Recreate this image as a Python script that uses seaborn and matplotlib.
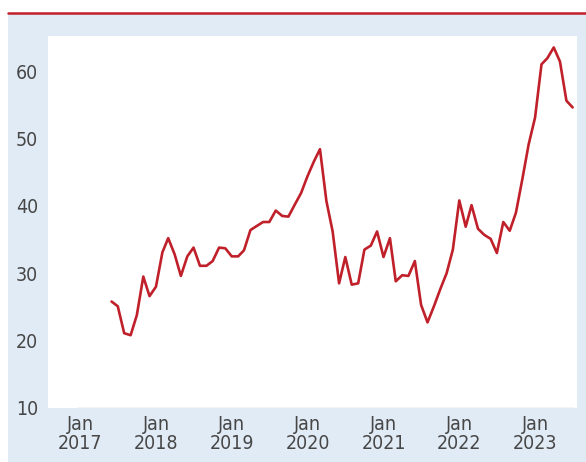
import matplotlib
matplotlib.use("Agg")
import matplotlib.pyplot as plt
from matplotlib.patches import Rectangle
from matplotlib.lines import Line2D
import seaborn as sns
import pandas as pd

start_month = "2017-06-01"
values = [
    25.8, 25.1, 21.1, 20.8, 23.8, 29.5, 26.6,                       # 2017 Jun-Dec
    28.0, 33.1, 35.2, 32.8, 29.6, 32.5, 33.8, 31.1, 31.1, 31.8, 33.8, 33.7,  # 2018
    32.5, 32.5, 33.4, 36.4, 37.0, 37.6, 37.6, 39.3, 38.5, 38.4, 40.2, 41.9,  # 2019
    44.4, 46.6, 48.4, 40.7, 36.2, 28.5, 32.4, 28.3, 28.5, 33.5, 34.1, 36.2,  # 2020
    32.4, 35.2, 28.8, 29.7, 29.6, 31.8, 25.3, 22.7, 25.1, 27.6, 30.0, 33.5,  # 2021
    40.8, 36.9, 40.1, 36.6, 35.7, 35.1, 33.0, 37.6, 36.3, 39.0, 44.0, 49.1,  # 2022
    53.1, 61.0, 61.9, 63.5, 61.4, 55.6, 54.6,                       # 2023 Jan-Jul
]
dates = pd.date_range(start_month, periods=len(values), freq="MS")
tick_years = [2017, 2018, 2019, 2020, 2021, 2022, 2023]
tick_labels = [f"Jan\n{y}" for y in tick_years]
y_ticks = [10, 20, 30, 40, 50, 60]

df = pd.DataFrame({"date": dates, "value": values})

sns.set_theme(style="white")
plt.rcParams["font.family"] = ["DejaVu Sans"]
plt.rcParams["font.stretch"] = "condensed"

RED = "#c0202a"
BLUE = "#e1ebf5"
TXT = "#474747"

W, H = 586, 462
fig = plt.figure(figsize=(W / 100, H / 100), dpi=100)
fig.patch.set_facecolor("white")
fig.patches.append(Rectangle((8 / W, 0), 1 - 8 / W, 1 - 14 / H,
                             transform=fig.transFigure, facecolor=BLUE,
                             edgecolor="none", zorder=-2))
fig.lines.append(Line2D([8 / W, 1], [1 - 13 / H, 1 - 13 / H],
                        transform=fig.transFigure, color=RED, linewidth=1.8))

ax = fig.add_axes([48 / W, 1 - 408 / H, (577 - 48) / W, (408 - 36) / H])
ax.set_facecolor("white")

sns.lineplot(data=df, x="date", y="value", ax=ax, color=RED, linewidth=1.9)

ax.set_ylim(10, 65.2)
ax.set_xlim(pd.Timestamp("2016-07-30"), pd.Timestamp("2023-07-22"))
ax.set_yticks(y_ticks)
ax.set_yticklabels([str(v) for v in y_ticks], fontstretch="condensed")
ax.set_xticks([pd.Timestamp(f"{y}-01-01") for y in tick_years])
ax.set_xticklabels(tick_labels, linespacing=1.0, fontstretch="condensed")

ax.tick_params(axis="both", length=0, labelsize=14, labelcolor=TXT)
ax.tick_params(axis="y", pad=7)
ax.tick_params(axis="x", pad=5)
ax.set_xlabel("")
ax.set_ylabel("")
for s in ax.spines.values():
    s.set_visible(False)
ax.axhline(10, xmin=(77 - 48) / 529, xmax=(574 - 48) / 529,
           color="#c8c8c8", linewidth=1.0, zorder=1)
ax.grid(False)

fig.savefig("out.png", dpi=100, facecolor=fig.get_facecolor())
